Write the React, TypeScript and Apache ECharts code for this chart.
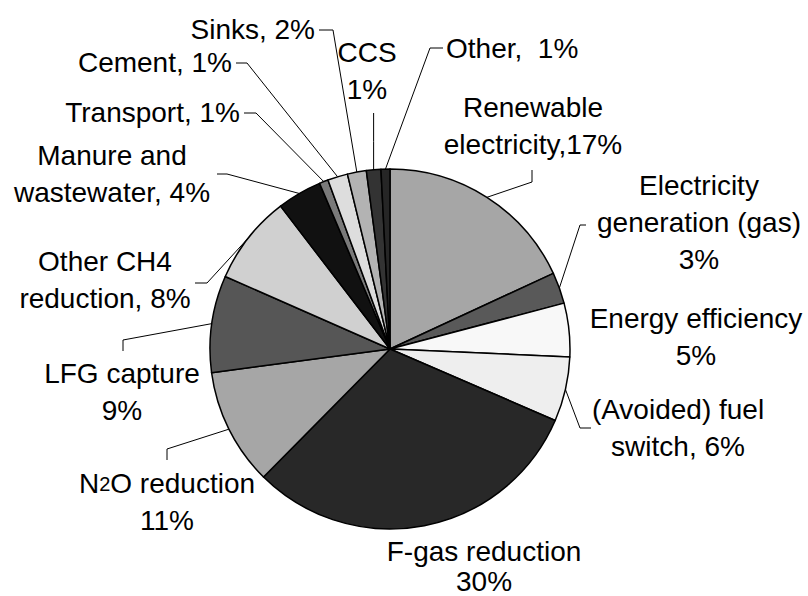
import React, { useEffect, useRef } from 'react';
import * as echarts from 'echarts';

// Slices, clockwise from 12 o'clock
const categories = [
  'Renewable electricity',
  'Electricity generation (gas)',
  'Energy efficiency',
  '(Avoided) fuel switch',
  'F-gas reduction',
  'N2O reduction',
  'LFG capture',
  'Other CH4 reduction',
  'Manure and wastewater',
  'Transport',
  'Cement',
  'Sinks',
  'CCS',
  'Other',
];

const shares = [18.1, 2.8, 4.8, 5.8, 30.9, 10.5, 8.7, 8.0, 4.0, 0.8, 1.8, 1.7, 1.3, 0.8];

// Label texts as printed on the chart
const labelTexts = [
  'Renewable\nelectricity,17%',
  'Electricity\ngeneration (gas)\n3%',
  'Energy efficiency\n5%',
  '(Avoided) fuel\nswitch, 6%',
  'F-gas reduction\n30%',
  'N{s|2}O reduction\n11%',
  'LFG capture\n9%',
  'Other CH4\nreduction, 8%',
  'Manure and\nwastewater, 4%',
  'Transport, 1%',
  'Cement, 1%',
  'Sinks, 2%',
  'CCS\n1%',
  'Other,  1%',
];

const colors = [
  '#a6a6a6', '#595959', '#f8f8f8', '#eeeeee', '#282828', '#a6a6a6', '#565656',
  '#d0d0d0', '#111111', '#7a7a7a', '#dddddd', '#b3b3b3', '#333333', '#262626',
];

const FONT = "'Liberation Sans', Arial, Helvetica, sans-serif";

export default function App() {
  const ref = useRef<HTMLDivElement>(null);

  useEffect(() => {
    if (!ref.current) return;
    const chart = echarts.init(ref.current, null, { renderer: 'svg' });

    const CX = 390;
    const CY = 349;
    const R = 180;

    // label placement (layout only)
    const layout: any[] = [
      { x: 533, y: 126, align: 'center', pts: [[532, 182], [532, 170]] },
      { x: 699, y: 222, align: 'center', pts: [[580, 225], [586, 225]] },
      { x: 696, y: 337, align: 'center', pts: null },
      { x: 678, y: 428, align: 'center', pts: [[580, 428], [591, 428]] },
      { x: 484, y: 566, align: 'center', pts: null },
      { x: 167, y: 502, align: 'center', pts: [[167, 449], [167, 460]] },
      { x: 122, y: 392, align: 'center', pts: [[123, 340], [123, 351]] },
      { x: 105, y: 280, align: 'center', pts: [[207, 283], [195, 283]] },
      { x: 112, y: 174, align: 'center', pts: [[227, 174], [217, 174]] },
      { x: 240, y: 112, align: 'right', pts: [[256, 113], [244, 113]] },
      { x: 232, y: 62, align: 'right', pts: [[247, 63], [236, 63]] },
      { x: 315, y: 29, align: 'right', pts: [[333, 30], [319, 30]] },
      { x: 367, y: 71, align: 'center', pts: 'vertical', endY: 113 },
      { x: 446, y: 48, align: 'left', pts: [[430, 48], [443, 48]] },
    ];

    const total = shares.reduce((a, b) => a + b, 0);
    const edgePoint = (i: number) => {
      let cum = 0;
      for (let k = 0; k < i; k++) cum += shares[k];
      const mid = ((cum + shares[i] / 2) / total) * Math.PI * 2;
      return [CX + R * Math.sin(mid), CY - R * Math.cos(mid)];
    };

    chart.setOption({
      animation: false,
      backgroundColor: '#ffffff',
      series: [
        {
          type: 'pie',
          center: [CX, CY],
          radius: R,
          startAngle: 90,
          clockwise: true,
          avoidLabelOverlap: false,
          emphasis: { disabled: true },
          itemStyle: { borderColor: '#000', borderWidth: 1.5 },
          label: {
            show: true,
            position: 'outside',
            color: '#000',
            fontFamily: FONT,
            fontSize: 28,
            lineHeight: 37,
            overflow: 'none',
            alignTo: 'none',
            formatter: (p: any) => labelTexts[p.dataIndex],
            rich: {
              s: {
                fontFamily: FONT,
                fontSize: 20,
                lineHeight: 37,
                verticalAlign: 'middle',
                color: '#000',
              },
            },
          },
          labelLine: {
            show: true,
            smooth: false,
            length: 10,
            length2: 10,
            lineStyle: { color: '#000', width: 1 },
          },
          labelLayout: (params: any) => {
            const i = params.dataIndex;
            const L = layout[i];
            const res: any = {
              x: L.x,
              y: L.y,
              align: L.align,
              verticalAlign: 'middle',
              hideOverlap: false,
              moveOverlap: null,
            };
            if (L.pts) {
              const p0 =
                params.labelLinePoints && params.labelLinePoints[0]
                  ? params.labelLinePoints[0]
                  : edgePoint(i);
              if (L.pts === 'vertical') {
                res.labelLinePoints = [[p0[0], p0[1]], [p0[0], (p0[1] + L.endY) / 2], [p0[0], L.endY]];
              } else {
                res.labelLinePoints = [[p0[0], p0[1]], L.pts[0], L.pts[1]];
              }
            }
            return res;
          },
          data: categories.map((name, i) => ({
            name,
            value: shares[i],
            itemStyle: { color: colors[i] },
            labelLine: { show: i !== 2 && i !== 4 },
            label: i === 4 ? { lineHeight: 30 } : undefined,
          })),
        },
      ],
    });

    return () => chart.dispose();
  }, []);

  return (
    <div
      ref={ref}
      style={{ position: 'fixed', left: 0, top: 0, width: 808, height: 596 }}
    />
  );
}
